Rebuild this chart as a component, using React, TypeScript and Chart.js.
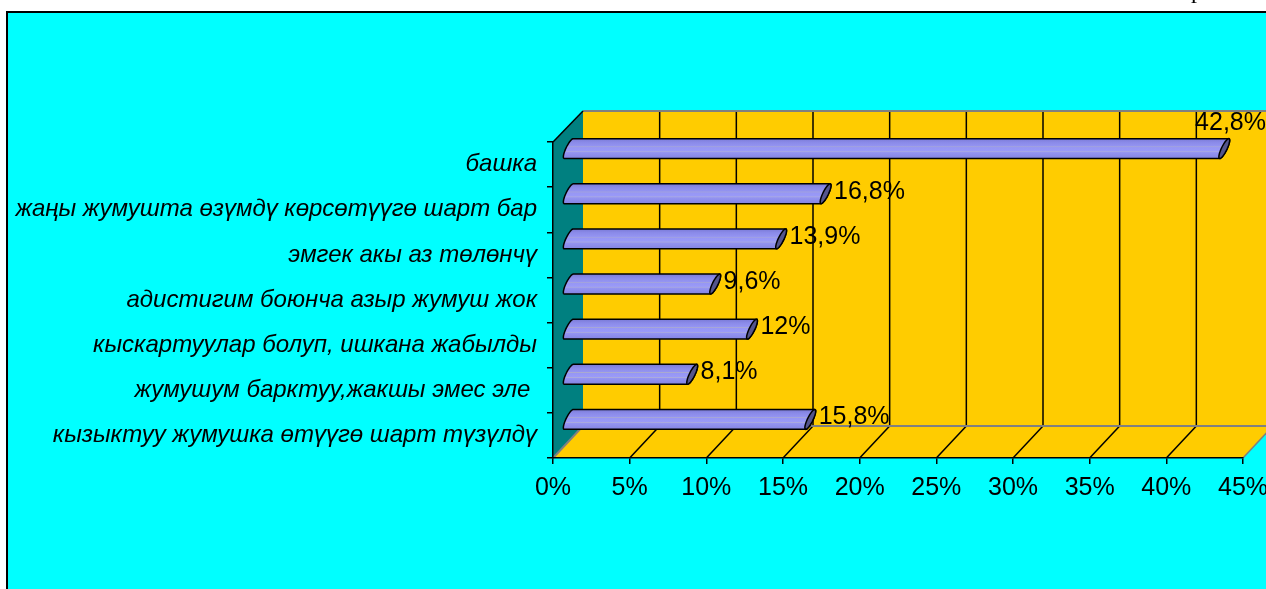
import React, { useEffect, useRef } from 'react';
import { Chart, registerables } from 'chart.js';

Chart.register(...registerables);

// ---- data ----
const categories: string[] = [
  'башка',
  'жаңы жумушта өзүмдү көрсөтүүгө шарт бар',
  'эмгек акы аз төлөнчү',
  'адистигим боюнча азыр жумуш жок',
  'кыскартуулар болуп, ишкана жабылды',
  'жумушум барктуу,жакшы эмес эле ',
  'кызыктуу жумушка өтүүгө шарт түзүлдү',
];
const values: number[] = [42.8, 16.8, 13.9, 9.6, 12, 8.1, 15.8];
const xTickMin = 0;
const xTickMax = 45;
const xTickStep = 5;

// ---- style ----
const DX = 30;
const DY = -32;
const YELLOW = '#FFCC00';
const TEAL = '#008080';
const CYAN = '#00FFFF';
const GRAY = '#808080';
const FONT = '"Liberation Sans", Arial, sans-serif';
const CAP_S = 4.5;
const CAP_W = 3;

const fmt = (v: number) => String(v).replace('.', ',') + '%';

const backdrop = {
  id: 'backdrop',
  beforeDraw(chart: any) {
    const { ctx, width, height, chartArea: a, scales } = chart;
    const xs = scales.x;
    ctx.save();
    ctx.fillStyle = '#ffffff';
    ctx.fillRect(0, 0, width, height);
    // frame
    ctx.fillStyle = '#000';
    ctx.fillRect(6, 11, width - 6, 2);
    ctx.fillRect(6, 11, 2, height - 11);
    ctx.fillStyle = CYAN;
    ctx.fillRect(8, 13, width - 8, height - 13);
    // page text fragment at the top
    ctx.fillStyle = '#000';
    ctx.font = '24px "Liberation Serif", serif';
    ctx.textBaseline = 'alphabetic';
    ctx.textAlign = 'left';
    ctx.fillText('р', 1191, -2);

    const x0 = xs.getPixelForValue(xTickMin);
    const x1 = xs.getPixelForValue(xTickMax);
    const top = a.top;
    const bot = a.bottom;

    // back wall
    ctx.fillStyle = YELLOW;
    ctx.fillRect(x0 + DX, top + DY + 1, x1 - x0, bot - top - 1);
    // side wall
    ctx.beginPath();
    ctx.moveTo(x0, top);
    ctx.lineTo(x0 + DX, top + DY + 1);
    ctx.lineTo(x0 + DX, bot + DY);
    ctx.lineTo(x0, bot);
    ctx.closePath();
    ctx.fillStyle = TEAL;
    ctx.fill();
    // floor
    ctx.beginPath();
    ctx.moveTo(x0, bot);
    ctx.lineTo(x1, bot);
    ctx.lineTo(x1 + DX, bot + DY);
    ctx.lineTo(x0 + DX, bot + DY);
    ctx.closePath();
    ctx.fillStyle = YELLOW;
    ctx.fill();

    ctx.lineWidth = 1.5;
    // back wall gridlines & floor lines
    for (let v = xTickMin + xTickStep; v <= xTickMax + 1e-9; v += xTickStep) {
      const px = xs.getPixelForValue(v);
      ctx.strokeStyle = '#000';
      ctx.beginPath();
      ctx.moveTo(px + DX, top + DY + 1);
      ctx.lineTo(px + DX, bot + DY);
      ctx.stroke();
      ctx.strokeStyle = v >= xTickMax - 1e-9 ? GRAY : '#000';
      ctx.beginPath();
      ctx.moveTo(px, bot);
      ctx.lineTo(px + DX, bot + DY);
      ctx.stroke();
    }
    // gray edges
    ctx.strokeStyle = GRAY;
    ctx.lineWidth = 2;
    ctx.beginPath();
    ctx.moveTo(x0 + DX, top + DY + 1);
    ctx.lineTo(x1 + DX, top + DY + 1);
    ctx.moveTo(x0 + DX, bot + DY);
    ctx.lineTo(x1 + DX, bot + DY);
    ctx.moveTo(x0, bot);
    ctx.lineTo(x0 + DX, bot + DY);
    ctx.stroke();
    // side wall top edge
    ctx.strokeStyle = '#000';
    ctx.lineWidth = 1.5;
    ctx.beginPath();
    ctx.moveTo(x0, top);
    ctx.lineTo(x0 + DX, top + DY + 1);
    ctx.stroke();
    ctx.restore();
  },
};

function capPt(cx: number, cy: number, r: number, t: number): [number, number] {
  return [cx + CAP_W * Math.cos(t) + CAP_S * Math.sin(t), cy - r * Math.sin(t)];
}

function drawCylinder(ctx: CanvasRenderingContext2D, xs: number, xe: number, cy: number, r: number) {
  const N = 24;
  ctx.beginPath();
  ctx.moveTo(xs + CAP_S, cy - r);
  ctx.lineTo(xe + CAP_S, cy - r);
  for (let i = 0; i <= N; i++) {
    const t = Math.PI / 2 - (Math.PI * i) / N;
    const p = capPt(xe, cy, r, t);
    ctx.lineTo(p[0], p[1]);
  }
  ctx.lineTo(xs - CAP_S, cy + r);
  for (let i = 0; i <= N; i++) {
    const t = (3 * Math.PI) / 2 - (Math.PI * i) / N;
    const p = capPt(xs, cy, r, t);
    ctx.lineTo(p[0], p[1]);
  }
  ctx.closePath();
  const g = ctx.createLinearGradient(0, cy - r, 0, cy + r);
  g.addColorStop(0, '#7a7ad6');
  g.addColorStop(0.18, '#8a8ae8');
  g.addColorStop(0.38, '#9494f2');
  g.addColorStop(0.41, '#aaaad0');
  g.addColorStop(0.45, '#9696f4');
  g.addColorStop(0.62, '#9a9af8');
  g.addColorStop(0.66, '#acacdc');
  g.addColorStop(0.7, '#9494f2');
  g.addColorStop(1, '#8484e2');
  ctx.fillStyle = g;
  ctx.fill();
  ctx.strokeStyle = '#000';
  ctx.lineWidth = 1.5;
  ctx.stroke();
  // end cap
  ctx.beginPath();
  for (let i = 0; i <= 2 * N; i++) {
    const t = (Math.PI * i) / N;
    const p = capPt(xe, cy, r, t);
    if (i === 0) ctx.moveTo(p[0], p[1]);
    else ctx.lineTo(p[0], p[1]);
  }
  ctx.closePath();
  ctx.fillStyle = '#55558c';
  ctx.fill();
  ctx.stroke();
}

const cylinders = {
  id: 'cylinders',
  afterDatasetsDraw(chart: any) {
    const { ctx } = chart;
    const meta = chart.getDatasetMeta(0);
    ctx.save();
    meta.data.forEach((el: any, i: number) => {
      const { x, y, base, height } = el.getProps(['x', 'y', 'base', 'height'], true);
      const cy = y + DY / 2;
      const xs = base + DX / 2;
      const xe = x + DX / 2;
      const r = height / 2;
      drawCylinder(ctx, xs, xe, cy, r);
      // value label
      ctx.font = '25px ' + FONT;
      ctx.fillStyle = '#000';
      ctx.textAlign = 'left';
      ctx.textBaseline = 'middle';
      const txt = fmt(values[i]);
      const w = ctx.measureText(txt).width;
      let lx = xe + Math.hypot(CAP_W, CAP_S) + 3;
      let ly = cy - 2;
      if (lx + w > chart.width) {
        lx = chart.width - w;
        ly = cy - r - 16;
      }
      ctx.fillText(txt, lx, ly);
    });
    ctx.restore();
  },
};

export default function App() {
  const ref = useRef<HTMLCanvasElement>(null);
  useEffect(() => {
    const canvas = ref.current!;
    const chart = new Chart(canvas, {
      type: 'bar',
      data: {
        labels: categories,
        datasets: [
          {
            data: values,
            backgroundColor: 'rgba(0,0,0,0)',
            borderWidth: 0,
            categoryPercentage: 1,
            barPercentage: 0.44,
          },
        ],
      },
      options: {
        indexAxis: 'y',
        animation: false,
        responsive: false,
        devicePixelRatio: 1,
        layout: { padding: { top: 142, right: 23, left: 0, bottom: 0 } },
        plugins: { legend: { display: false }, tooltip: { enabled: false } },
        scales: {
          x: {
            min: xTickMin,
            max: xTickMax,
            ticks: {
              stepSize: xTickStep,
              callback: (v: any) => v + '%',
              color: '#000',
              font: { family: FONT, size: 25 },
              padding: 9,
              maxRotation: 0,
              autoSkip: false,
            },
            grid: { drawOnChartArea: false, drawTicks: true, tickLength: 6, color: '#000', lineWidth: 1.5 },
            border: { display: true, color: '#000', width: 1.5 },
            afterFit: (s: any) => {
              s.height = 131;
              s.paddingLeft = 0;
              s.paddingRight = 0;
            },
          },
          y: {
            ticks: {
              color: '#000',
              font: { family: FONT, size: 24, style: 'italic' },
              padding: 10,
              autoSkip: false,
            },
            grid: { drawOnChartArea: false, tickLength: 6, color: '#000', offset: true, lineWidth: 1.5 },
            border: { display: true, color: '#000', width: 1.5 },
            afterFit: (s: any) => {
              s.width = 553;
              s.paddingTop = 0;
              s.paddingBottom = 0;
            },
          },
        },
      } as any,
      plugins: [backdrop, cylinders],
    });
    return () => chart.destroy();
  }, []);
  return (
    <div style={{ position: 'absolute', left: 0, top: 0, width: 1266, height: 589 }}>
      <canvas ref={ref} width={1266} height={589} style={{ display: 'block' }} />
    </div>
  );
}
